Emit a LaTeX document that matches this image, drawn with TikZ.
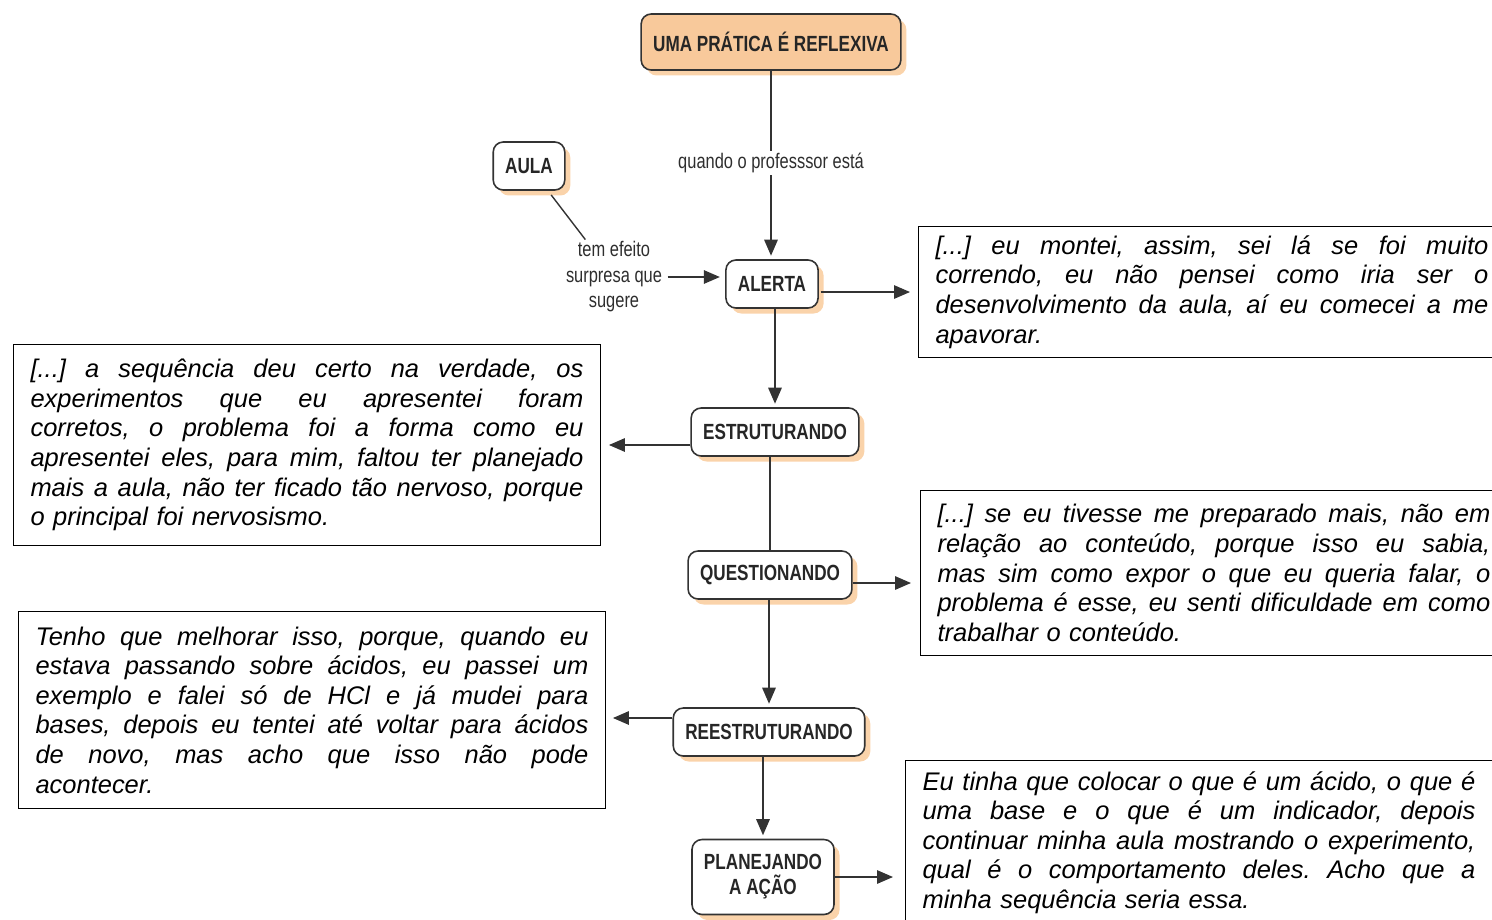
\documentclass[tikz,border=0pt]{standalone}
\usepackage{fontspec}
\setmainfont{Liberation Sans}
\newfontfamily\estreita[FakeStretch=0.78]{Liberation Sans}
\usetikzlibrary{arrows.meta,shadows}
\definecolor{pessego}{HTML}{F8C99B}
\definecolor{sombra}{HTML}{FAD3AA}
\definecolor{borda}{HTML}{333333}
\definecolor{cinza}{HTML}{2E2E2E}
\newlength{\larg}
\setlength{\larg}{11.06cm}
\newcommand{\linha}[1]{\hbox to\larg{\spaceskip=0pt\xspaceskip=0pt #1}}
\newcommand{\ultima}[1]{\hbox to\larg{#1\hfil}}
\frenchspacing
\tikzset{
  conceito/.style={draw=borda, line width=0.9pt, rounded corners=0.2cm, fill=white,
    font=\estreita\bfseries\fontsize{12.5}{14.2}\selectfont, text=black!85,
    inner xsep=0.24cm, minimum height=0.96cm, align=center,
    drop shadow={shadow xshift=0.11cm, shadow yshift=-0.11cm, fill=sombra, opacity=1}},
  fala/.style={draw=black, line width=0.6pt, fill=white, anchor=north west,
    text width=\larg, inner xsep=0.34cm,
    font=\fontsize{14.5}{16.85}\selectfont\itshape},
  rotulo/.style={text=cinza, align=center, inner sep=1pt,
    font=\estreita\fontsize{12}{14.5}\selectfont},
  seta/.style={draw=borda, line width=0.8pt, -{Triangle[length=0.32cm,width=0.27cm]}},
  liga/.style={draw=borda, line width=0.8pt}
}
\begin{document}
\begin{tikzpicture}[x=0.02cm, y=-0.02cm]
  \useasboundingbox (0,0) rectangle (1492,920);
  \clip (0,0) rectangle (1492,920);
  % conceitos
  \node[conceito, fill=pessego, drop shadow={opacity=0}, minimum height=1.12cm] (pratica) at (771,42) {UMA PRÁTICA É REFLEXIVA};
  \node[conceito] (aula) at (529,166) {AULA};
  \node[conceito] (alerta) at (772,284) {ALERTA};
  \node[conceito] (estruturando) at (775,432) {ESTRUTURANDO};
  \node[conceito] (questionando) at (770,575) {QUESTIONANDO};
  \node[conceito] (reestruturando) at (769,732) {REESTRUTURANDO};
  \node[conceito, minimum height=1.5cm] (planejando) at (763,877) {PLANEJANDO\\A AÇÃO};
  % frases de ligacao
  \node[rotulo] (professor) at (771,163) {quando o professsor está};
  \node[rotulo] (surpresa) at (614,277) {tem efeito\\surpresa que\\sugere};
  % falas
  \node[fala, minimum height=2.62cm] (fala1) at (918,226) {%
    \linha{[...] eu montei, assim, sei lá se foi muito}
    \linha{correndo, eu não pensei como iria ser o}
    \linha{desenvolvimento da aula, aí eu comecei a me}
    \ultima{apavorar.}};
  \node[fala, minimum height=4.02cm] (fala2) at (13,344) {%
    \linha{[...] a sequência deu certo na verdade, os}
    \linha{experimentos que eu apresentei foram}
    \linha{corretos, o problema foi a forma como eu}
    \linha{apresentei eles, para mim, faltou ter planejado}
    \linha{mais a aula, não ter ficado tão nervoso, porque}
    \ultima{o principal foi nervosismo.}};
  \node[fala, minimum height=3.3cm] (fala3) at (920,490) {%
    \linha{[...] se eu tivesse me preparado mais, não em}
    \linha{relação ao conteúdo, porque isso eu sabia,}
    \linha{mas sim como expor o que eu queria falar, o}
    \linha{problema é esse, eu senti dificuldade em como}
    \ultima{trabalhar o conteúdo.}};
  \node[fala, minimum height=3.94cm] (fala4) at (18,611) {%
    \linha{Tenho que melhorar isso, porque, quando eu}
    \linha{estava passando sobre ácidos, eu passei um}
    \linha{exemplo e falei só de HCl e já mudei para}
    \linha{bases, depois eu tentei até voltar para ácidos}
    \linha{de novo, mas acho que isso não pode}
    \ultima{acontecer.}};
  \node[fala, minimum height=3.28cm] (fala5) at (905,760) {%
    \linha{Eu tinha que colocar o que é um ácido, o que é}
    \linha{uma base e o que é um indicador, depois}
    \linha{continuar minha aula mostrando o experimento,}
    \linha{qual é o comportamento deles. Acho que a}
    \ultima{minha sequência seria essa.}};
  % ligacoes
  \draw[liga] (pratica.south -| professor.north) -- (professor.north);
  \draw[seta, shorten >=2pt] (professor.south) -- (professor.south |- alerta.north);
  \draw[liga, shorten <=3pt] (aula) -- (surpresa);
  \draw[seta, shorten <=2pt, shorten >=3pt] (surpresa.east) -- (surpresa.east -| alerta.west);
  \draw[seta, shorten <=1pt, shorten >=0.16cm] (alerta.east |- fala1.west) -- (fala1.west);
  \draw[seta, shorten >=2pt] (alerta.south -| estruturando.north) -- (estruturando.north);
  \draw[seta, shorten >=0.16cm] (estruturando.west |- fala2.east) -- (fala2.east);
  \draw[liga] (estruturando.south -| questionando.north) -- (questionando.north);
  \draw[seta, shorten >=0.18cm] ([yshift=-0.16cm]questionando.east) -- ([yshift=-0.16cm]questionando.east -| fala3.west);
  \draw[seta, shorten >=2pt] (questionando.south -| reestruturando.north) -- (reestruturando.north);
  \draw[seta, shorten >=0.14cm] ([yshift=0.28cm]reestruturando.west) -- ([yshift=0.28cm]reestruturando.west -| fala4.east);
  \draw[seta, shorten >=2pt] (reestruturando.south -| planejando.north) -- (planejando.north);
  \draw[seta, shorten >=0.24cm] (planejando.east) -- (planejando.east -| fala5.west);
\end{tikzpicture}
\end{document}
